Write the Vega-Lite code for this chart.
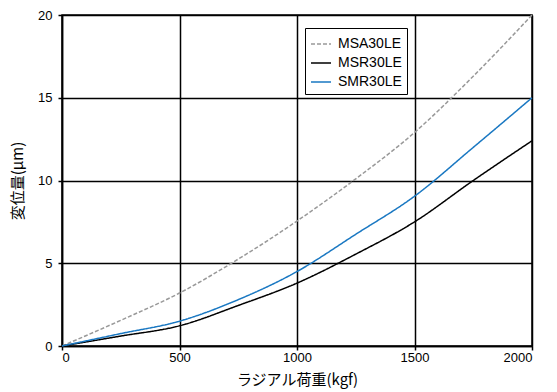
{
  "$schema": "https://vega.github.io/schema/vega-lite/v6.json",
  "width": 470,
  "height": 331,
  "autosize": "none",
  "padding": {"left": 62, "top": 15, "right": 25, "bottom": 46},
  "background": "white",
  "config": {
    "font": "Liberation Sans",
    "view": {"stroke": "black", "strokeWidth": 1.5},
    "axis": {
      "domainColor": "black", "domainWidth": 1.5,
      "gridColor": "black", "gridWidth": 1.5, "gridOpacity": 1,
      "tickColor": "black", "tickSize": 4, "tickWidth": 1.5,
      "labelColor": "black", "labelFontSize": 13, "labelFont": "Liberation Sans",
      "titleColor": "black", "titleFontSize": 15, "titleFontWeight": "normal",
      "titleFont": "Noto Sans CJK JP"
    }
  },
  "data": {
    "values": [
      {"x": 0, "y": 0, "s": "MSA30LE"},
      {"x": 250, "y": 1.55, "s": "MSA30LE"},
      {"x": 500, "y": 3.2, "s": "MSA30LE"},
      {"x": 750, "y": 5.25, "s": "MSA30LE"},
      {"x": 1000, "y": 7.55, "s": "MSA30LE"},
      {"x": 1250, "y": 10.1, "s": "MSA30LE"},
      {"x": 1500, "y": 12.9, "s": "MSA30LE"},
      {"x": 1750, "y": 16.3, "s": "MSA30LE"},
      {"x": 2000, "y": 20, "s": "MSA30LE"},
      {"x": 0, "y": 0, "s": "MSR30LE"},
      {"x": 250, "y": 0.6, "s": "MSR30LE"},
      {"x": 500, "y": 1.22, "s": "MSR30LE"},
      {"x": 750, "y": 2.45, "s": "MSR30LE"},
      {"x": 1000, "y": 3.8, "s": "MSR30LE"},
      {"x": 1250, "y": 5.55, "s": "MSR30LE"},
      {"x": 1500, "y": 7.5, "s": "MSR30LE"},
      {"x": 1750, "y": 10.0, "s": "MSR30LE"},
      {"x": 2000, "y": 12.4, "s": "MSR30LE"},
      {"x": 0, "y": 0, "s": "SMR30LE"},
      {"x": 250, "y": 0.75, "s": "SMR30LE"},
      {"x": 500, "y": 1.5, "s": "SMR30LE"},
      {"x": 750, "y": 2.8, "s": "SMR30LE"},
      {"x": 1000, "y": 4.5, "s": "SMR30LE"},
      {"x": 1250, "y": 6.75, "s": "SMR30LE"},
      {"x": 1500, "y": 9.05, "s": "SMR30LE"},
      {"x": 1750, "y": 12.0, "s": "SMR30LE"},
      {"x": 2000, "y": 15.0, "s": "SMR30LE"}
    ]
  },
  "mark": {"type": "line", "interpolate": "monotone", "strokeWidth": 1.5},
  "encoding": {
    "x": {
      "field": "x", "type": "quantitative",
      "scale": {"domain": [0, 2000], "nice": false},
      "axis": {"values": [0, 500, 1000, 1500, 2000], "format": "d", "title": "ラジアル荷重(kgf)", "titlePadding": 8, "labelPadding": 1}
    },
    "y": {
      "field": "y", "type": "quantitative",
      "scale": {"domain": [0, 20], "nice": false},
      "axis": {"values": [0, 5, 10, 15, 20], "format": "d", "title": "変位量(μm)", "titlePadding": 12, "labelPadding": 6}
    },
    "color": {
      "field": "s", "type": "nominal",
      "scale": {"domain": ["MSA30LE", "MSR30LE", "SMR30LE"], "range": ["#999999", "#000000", "#1a78c2"]},
      "legend": {
        "title": null, "orient": "none", "legendX": 243, "legendY": 13,
        "symbolType": "stroke", "symbolSize": 400, "symbolStrokeWidth": 1.5,
        "labelFontSize": 14, "labelColor": "black", "labelFont": "Liberation Sans",
        "labelOffset": 6,
        "rowPadding": 1, "strokeColor": "black", "fillColor": "white",
        "padding": 5
      }
    },
    "strokeDash": {
      "field": "s", "type": "nominal",
      "scale": {"domain": ["MSA30LE", "MSR30LE", "SMR30LE"], "range": [[4, 2], [1, 0], [1, 0]]},
      "legend": null
    }
  }
}
